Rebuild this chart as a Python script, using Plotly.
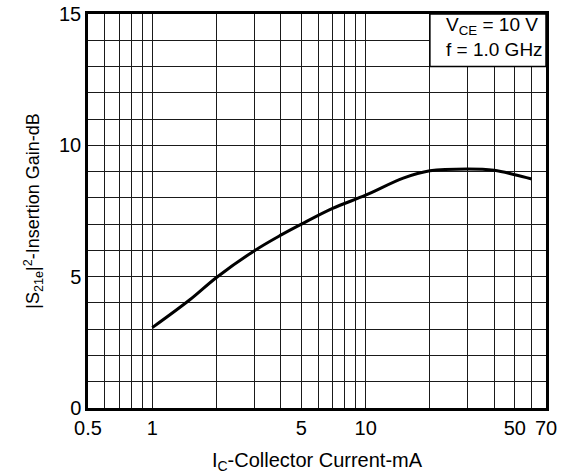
import plotly.graph_objects as go

# Data
ic_ma = [1, 1.5, 2, 3, 4, 5, 7, 10, 15, 20, 30, 40, 50, 60]
gain_db = [3.06, 4.12, 4.97, 5.98, 6.58, 7.0, 7.6, 8.1, 8.75, 9.03, 9.1, 9.05, 8.88, 8.72]

x_tick_vals = [0.5, 1, 5, 10, 50, 70]
x_tick_text = ["0.5", "1", "5", "10", "50", "70"]
y_tick_vals = [0, 5, 10, 15]

FONT = "Liberation Sans, Arial, Helvetica, sans-serif"
GRID = "#1a1a1a"

fig = go.Figure()
fig.add_trace(go.Scatter(x=ic_ma, y=gain_db, mode="lines",
                         line=dict(color="black", width=3, shape="spline", smoothing=1.0),
                         showlegend=False, hoverinfo="skip"))

fig.update_layout(
    width=573, height=474,
    margin=dict(l=88, r=27, t=14, b=66),
    paper_bgcolor="white", plot_bgcolor="white",
    font=dict(family=FONT, size=19, color="black"),
    xaxis=dict(type="log", range=[-0.30103, 1.845098], automargin=False,
               tickmode="array", tickvals=x_tick_vals, ticktext=x_tick_text,
               ticks="", showgrid=True, gridcolor=GRID, gridwidth=1,
               minor=dict(dtick="D1", showgrid=True, gridcolor=GRID, gridwidth=1, ticks=""),
               showline=True, linecolor="black", linewidth=2.5, mirror=True,
               zeroline=False, tickfont=dict(size=20),
               title=dict(text="I<sub>C</sub>-Collector Current-mA", font=dict(size=20), standoff=16)),
    yaxis=dict(range=[0, 15], automargin=False, tickmode="array", tickvals=y_tick_vals,
               ticks="", showgrid=True, gridcolor=GRID, gridwidth=1,
               minor=dict(dtick=1, showgrid=True, gridcolor=GRID, gridwidth=1, ticks=""),
               showline=True, linecolor="black", linewidth=2.5, mirror=True,
               zeroline=False, tickfont=dict(size=20),
               title=dict(text="|S<sub>21e</sub>|<sup>2</sup>-Insertion Gain-dB", font=dict(size=18), standoff=15)),
)

# condition box in the upper-right corner
fig.add_shape(type="rect", xref="x", yref="y", x0=20, x1=70, y0=13, y1=15,
              fillcolor="white", line=dict(color="black", width=1.5), layer="above")
fig.add_annotation(xref="paper", yref="paper", x=0.997, y=1.005, xanchor="right", yanchor="top",
                   align="left", showarrow=False,
                   text="V<sub>CE</sub> = 10 V<br>f = 1.0 GHz", font=dict(size=19, family=FONT))

fig.write_html("out.html")
